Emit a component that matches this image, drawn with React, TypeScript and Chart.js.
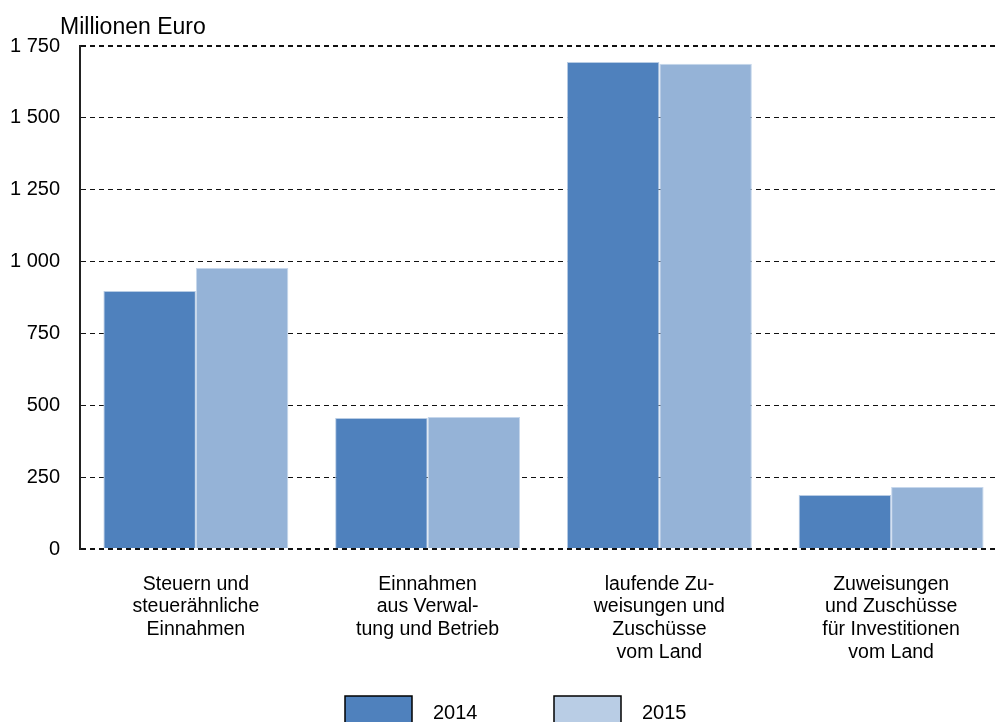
import React, { useEffect, useRef } from "react";
import { Chart, registerables } from "chart.js";

Chart.register(...registerables);

const categories: string[][] = [
  ["Steuern und", "steuerähnliche", "Einnahmen"],
  ["Einnahmen", "aus Verwal-", "tung und Betrieb"],
  ["laufende Zu-", "weisungen und", "Zuschüsse", "vom Land"],
  ["Zuweisungen", "und Zuschüsse", "für Investitionen", "vom Land"],
];
const seriesNames = ["2014", "2015"];
const values2014 = [898, 456, 1694, 188];
const values2015 = [978, 459, 1688, 216];
const barColors = ["#4f81bd", "#95b3d7"];
const legendColors = ["#4f81bd", "#b9cde5"];
const yTitle = "Millionen Euro";
const yMax = 1750;
const yStep = 250;

const FONT = "'Liberation Sans', Arial, sans-serif";

const fmt = (v: number) => {
  const s = Math.round(v).toString();
  return s.replace(/\B(?=(\d{3})+(?!\d))/g, " ");
};

const customPlugin = {
  id: "custom",
  afterDraw(chart: any) {
    const ctx = chart.ctx;
    ctx.save();
    ctx.fillStyle = "#000";
    ctx.font = `23px ${FONT}`;
    ctx.textBaseline = "middle";
    ctx.textAlign = "left";
    ctx.fillText(yTitle, 60, 28);
    // legend
    const start = 345;
    chart.data.datasets.forEach((ds: any, i: number) => {
      const x = start + i * 209;
      const y = 696;
      ctx.fillStyle = ds.legendColor;
      ctx.fillRect(x, y, 67, 36);
      ctx.strokeStyle = "#000";
      ctx.lineWidth = 1.5;
      ctx.strokeRect(x, y, 67, 36);
      ctx.fillStyle = "#000";
      ctx.font = `20px ${FONT}`;
      ctx.textBaseline = "middle";
      ctx.fillText(ds.label, x + 88, 713);
    });
    ctx.restore();
  },
};

export default function App() {
  const ref = useRef<HTMLCanvasElement | null>(null);
  useEffect(() => {
    if (!ref.current) return;
    const chart = new Chart(ref.current, {
      type: "bar",
      data: {
        labels: categories,
        datasets: [
          {
            label: seriesNames[0],
            data: values2014,
            backgroundColor: barColors[0],
            borderColor: "#b8cce4",
            borderWidth: 1,
            legendColor: legendColors[0],
          } as any,
          {
            label: seriesNames[1],
            data: values2015,
            backgroundColor: barColors[1],
            borderColor: "#c6d7ec",
            borderWidth: 1,
            legendColor: legendColors[1],
          } as any,
        ],
      },
      options: {
        animation: false,
        responsive: false,
        maintainAspectRatio: false,
        layout: { padding: { top: 46, right: 5, left: 0, bottom: 0 } },
        datasets: {
          bar: { categoryPercentage: 0.798, barPercentage: 1.0 },
        },
        plugins: {
          legend: { display: false },
          tooltip: { enabled: false },
          title: { display: false },
        },
        scales: {
          x: {
            grid: { display: false },
            border: { display: false },
            ticks: {
              color: "#000",
              font: { family: FONT, size: 19.5, lineHeight: 1.16 },
              padding: 16,
              maxRotation: 0,
              autoSkip: false,
            },
            afterFit: (s: any) => {
              s.height = 173;
            },
          },
          y: {
            min: 0,
            max: yMax,
            grid: {
              color: "#111",
              lineWidth: (c: any) =>
                c.tick && (c.tick.value === 0 || c.tick.value === yMax) ? 2 : 1,
              drawTicks: false,
            },
            border: { display: true, color: "#222", width: 2, dash: [5, 4] },
            ticks: {
              stepSize: yStep,
              color: "#000",
              font: { family: FONT, size: 20 },
              padding: 20,
              callback: (v: any) => fmt(Number(v)),
            },
            afterFit: (s: any) => {
              s.width = 80;
            },
          },
        },
      } as any,
      plugins: [customPlugin],
    });
    return () => chart.destroy();
  }, []);
  return (
    <div
      style={{
        position: "absolute",
        left: 0,
        top: 0,
        width: 996,
        height: 722,
        overflow: "hidden",
        background: "#fff",
      }}
    >
      <canvas ref={ref} width={1012} height={722} style={{ display: "block" }} />
    </div>
  );
}
